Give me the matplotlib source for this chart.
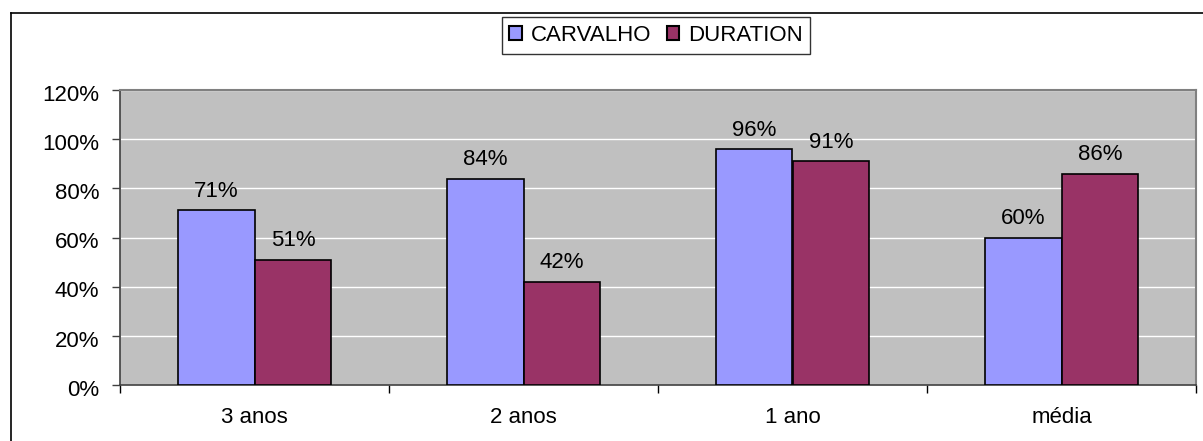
import numpy as np
import matplotlib.pyplot as plt
from matplotlib.lines import Line2D
from matplotlib.ticker import PercentFormatter
from matplotlib.transforms import ScaledTranslation

categories = ['3 anos', '2 anos', '1 ano', 'média']
carvalho = [71, 84, 96, 60]
duration = [51, 42, 91, 86]
series_names = ['CARVALHO', 'DURATION']

plt.rcParams['font.family'] = ['Liberation Sans', 'DejaVu Sans']
fs = 16

fig = plt.figure(figsize=(12.03, 4.41), dpi=100)
ax = fig.add_axes([120 / 1203, 1 - 385 / 441, 1076 / 1203, 295 / 441])

x = np.arange(len(categories))
w = 1 / 3.5
b1 = ax.bar(x - w / 2, carvalho, w, color='#9999FF', edgecolor='black', linewidth=1.2,
            label=series_names[0], zorder=3)
b2 = ax.bar(x + w / 2, duration, w, color='#993366', edgecolor='black', linewidth=1.2,
            label=series_names[1], zorder=3)

# rótulos de dados
for bars, vals in ((b1, carvalho), (b2, duration)):
    for r, v in zip(bars, vals):
        ax.annotate(f'{v}%', (r.get_x() + r.get_width() / 2, v), xytext=(0, 6),
                    textcoords='offset points', ha='center', va='bottom', fontsize=fs)

ax.set_facecolor('#C0C0C0')
ax.set_xlim(-0.5, len(categories) - 0.5)
ax.set_ylim(0, 120)
ax.set_yticks(np.arange(0, 121, 20))
ax.yaxis.set_major_formatter(PercentFormatter(decimals=0))
ax.grid(axis='y', color='white', linewidth=1, zorder=0)
ax.set_axisbelow(True)

ax.set_xticks(x)
ax.set_xticklabels(categories)
ax.set_xticks(np.arange(-0.5, len(categories), 1), minor=True)
ax.tick_params(axis='x', which='major', length=0, pad=16, labelsize=fs)
ax.tick_params(axis='x', which='minor', length=6, width=1, color='black')
ax.tick_params(axis='y', length=6, width=1, color='#404040', pad=9, labelsize=fs)
for lab in ax.get_yticklabels():
    lab.set_transform(lab.get_transform() + ScaledTranslation(0, -2 / 72, fig.dpi_scale_trans))

for s in ('top', 'right'):
    ax.spines[s].set_color('#808080')
    ax.spines[s].set_linewidth(1.5)
for s in ('left', 'bottom'):
    ax.spines[s].set_color('#404040')
    ax.spines[s].set_linewidth(1.2)

leg = fig.legend(loc='center', bbox_to_anchor=(656 / 1203, 1 - 35.5 / 441), ncol=2,
                 fontsize=fs, frameon=True, fancybox=False, edgecolor='black',
                 handlelength=0.55, handleheight=0.55, handletextpad=0.4,
                 columnspacing=0.7, borderpad=0.35, borderaxespad=0)
leg.get_frame().set_linewidth(1)
for h in leg.legend_handles:
    h.set_edgecolor('black')
    h.set_linewidth(1.5)

# borda do gráfico
fig.add_artist(Line2D([11 / 1203, 11 / 1203], [0, 1 - 13 / 441], color='black', lw=1.2,
                      transform=fig.transFigure))
fig.add_artist(Line2D([11 / 1203, 1], [1 - 13 / 441, 1 - 13 / 441], color='black', lw=1.2,
                      transform=fig.transFigure))

fig.savefig('out.png', dpi=100)
